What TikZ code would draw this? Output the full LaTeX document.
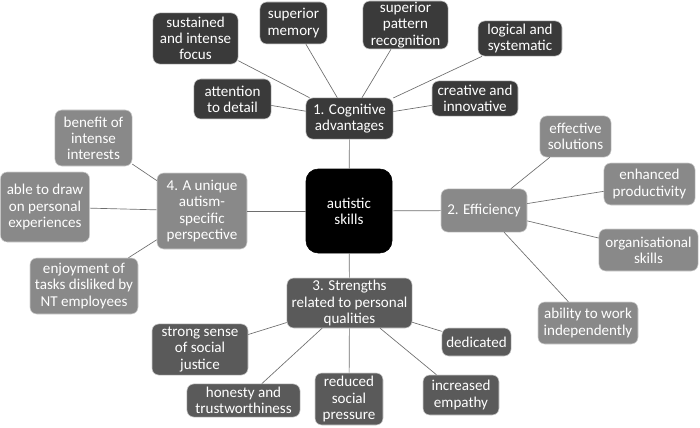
\documentclass[tikz,border=0pt]{standalone}
\usepackage{fontspec}
\setmainfont{Carlito}
\usepackage{tikz}
\usetikzlibrary{positioning}
\definecolor{skcog}{HTML}{3A3A3A}
\definecolor{skeff}{HTML}{898989}
\definecolor{skstr}{HTML}{5A5A5A}
\definecolor{skline}{HTML}{6E6E6E}
\definecolor{skrim}{HTML}{D0D0D0}
\tikzset{
  bx/.style={rounded corners=5pt, align=center, text=white, inner sep=0pt, draw=skrim, line width=0.4pt,
    font=\fontsize{11.3}{12.1}\selectfont},
  hub/.style={bx, fill=black, draw=black, rounded corners=9pt},
  cog/.style={bx, fill=skcog},
  eff/.style={bx, fill=skeff},
  str/.style={bx, fill=skstr},
  lnk/.style={draw=skline, line width=0.5pt},
}
\begin{document}
\begin{tikzpicture}[x=0.75pt, y=-0.75pt]
    \useasboundingbox (0,0) rectangle (700,428);
    % centre
    \node[hub, minimum width=64.5pt, minimum height=63pt] (sk) at (349,211) {autistic\\skills};
    % 1. cognitive advantages
    \node[cog, minimum width=65.3pt, minimum height=30.8pt] (cg) at (349.5,118.5) {1. Cognitive\\advantages};
    \node[cog, minimum width=63.8pt, minimum height=38.3pt] (cg1) at (195.5,38.5) {sustained\\and intense\\focus};
    \node[cog, minimum width=50.3pt, minimum height=31.5pt] (cg2) at (293.5,23) {superior\\memory};
    \node[cog, minimum width=63.8pt, minimum height=36pt] (cg3) at (405.5,25) {superior\\pattern\\recognition};
    \node[cog, minimum width=63pt, minimum height=26.3pt] (cg4) at (520,38.5) {logical and\\systematic};
    \node[cog, minimum width=57.8pt, minimum height=30pt] (cg5) at (232.5,99) {attention\\to detail};
    \node[cog, minimum width=64.5pt, minimum height=26.3pt] (cg6) at (475,98.5) {creative and\\innovative};
    % 2. efficiency
    \node[eff, minimum width=64.5pt, minimum height=32.3pt] (ef) at (484,210.5) {2. Efficiency};
    \node[eff, minimum width=53.3pt, minimum height=30.8pt] (ef1) at (575.5,136.5) {effective\\solutions};
    \node[eff, minimum width=68.3pt, minimum height=31.5pt] (ef2) at (649.5,184) {enhanced\\productivity};
    \node[eff, minimum width=74.3pt, minimum height=31.5pt] (ef3) at (648.5,250) {organisational\\skills};
    \node[eff, minimum width=75pt, minimum height=31.5pt] (ef4) at (588,323) {ability to work\\independently};
    % 3. strengths
    \node[str, minimum width=93.8pt, minimum height=37.5pt] (st) at (349.5,303) {3. Strengths\\related to personal\\qualities};
    \node[str, minimum width=72pt, minimum height=38.3pt] (st1) at (200,349.5) {strong sense\\of social\\justice};
    \node[str, minimum width=84.8pt, minimum height=24.8pt] (st2) at (243.5,400.5) {honesty and\\trustworthiness};
    \node[str, minimum width=51pt, minimum height=39pt] (st3) at (349,399) {reduced\\social\\pressure};
    \node[str, minimum width=51.8pt, minimum height=21pt] (st4) at (476.5,342) {dedicated};
    \node[str, minimum width=57pt, minimum height=30pt] (st5) at (461,395) {increased\\empathy};
    % 4. perspective
    \node[eff, minimum width=67.5pt, minimum height=57pt] (pp) at (202,211) {4. A unique\\autism-\\specific\\perspective};
    \node[eff, minimum width=57.8pt, minimum height=42pt] (pp1) at (93.5,138) {benefit of\\intense\\interests};
    \node[eff, minimum width=66.8pt, minimum height=52.5pt] (pp2) at (45,207) {able to draw\\on personal\\experiences};
    \node[eff, minimum width=81pt, minimum height=42pt] (pp3) at (84,286) {enjoyment of\\tasks disliked by\\NT employees};
    \foreach \a/\b in {sk/cg,sk/ef,sk/st,sk/pp,cg/cg1,cg/cg2,cg/cg3,cg/cg4,cg/cg5,cg/cg6,ef/ef1,ef/ef2,ef/ef3,ef/ef4,st/st1,st/st2,st/st3,st/st4,st/st5,pp/pp1,pp/pp2,pp/pp3} \draw[lnk] (\a) -- (\b);
\end{tikzpicture}
\end{document}
